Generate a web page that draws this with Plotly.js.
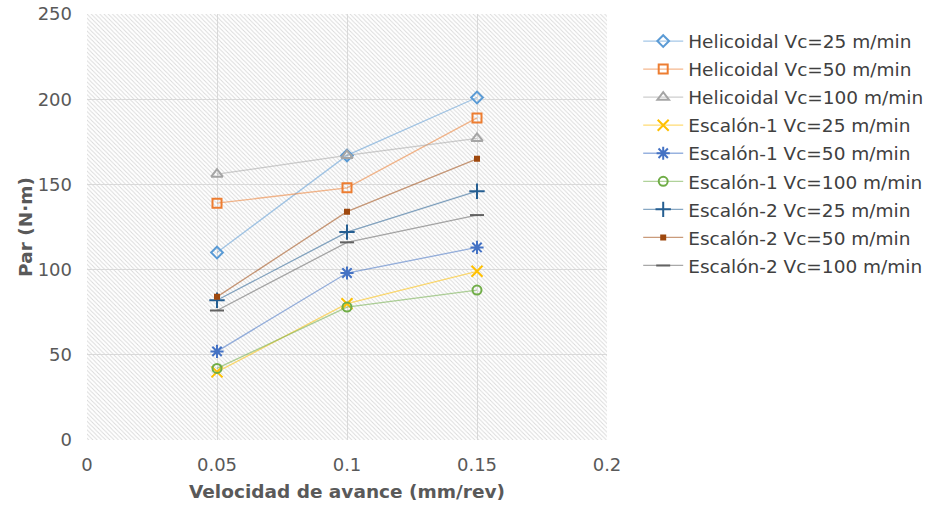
<!DOCTYPE html>
<html>
<head>
<meta charset="utf-8">
<script src="https://cdn.plot.ly/plotly-3.0.1.min.js"></script>
<style>html,body{margin:0;padding:0;background:#fff;}#chart{width:926px;height:506px;}</style>
</head>
<body>
<div id="chart"></div>
<script>
const feed = [0.05, 0.1, 0.15];
const seriesNames = [
  "Helicoidal Vc=25 m/min",
  "Helicoidal Vc=50 m/min",
  "Helicoidal Vc=100 m/min",
  "Escalón-1 Vc=25 m/min",
  "Escalón-1 Vc=50 m/min",
  "Escalón-1 Vc=100 m/min",
  "Escalón-2 Vc=25 m/min",
  "Escalón-2 Vc=50 m/min",
  "Escalón-2 Vc=100 m/min"
];
const helicoidal25 = [110, 167, 201];
const helicoidal50 = [139, 148, 189];
const helicoidal100 = [156, 167, 177];
const escalon1_25 = [40, 80, 99];
const escalon1_50 = [52, 98, 113];
const escalon1_100 = [42, 78, 88];
const escalon2_25 = [82, 122, 146];
const escalon2_50 = [84, 134, 165];
const escalon2_100 = [76, 116, 132];
const xTicks = [0, 0.05, 0.1, 0.15, 0.2];
const yTicks = [0, 50, 100, 150, 200, 250];

const values = [helicoidal25, helicoidal50, helicoidal100, escalon1_25, escalon1_50, escalon1_100, escalon2_25, escalon2_50, escalon2_100];
const styles = [
  {sym: "diamond-open", c: "#5B9BD5", lc: "rgba(91,155,213,0.55)", s: 9},
  {sym: "square-open", c: "#ED7D31", lc: "rgba(237,125,49,0.55)", s: 9},
  {sym: "triangle-up-open", c: "#A5A5A5", lc: "rgba(165,165,165,0.55)", s: 10},
  {sym: "x-thin-open", c: "#FFC000", lc: "rgba(255,192,0,0.55)", s: 11},
  {sym: "asterisk-open", c: "#4472C4", lc: "rgba(68,114,196,0.55)", s: 11},
  {sym: "circle-open", c: "#70AD47", lc: "rgba(112,173,71,0.55)", s: 9},
  {sym: "cross-thin-open", c: "#255E91", lc: "rgba(37,94,145,0.55)", s: 11},
  {sym: "square", c: "#9E480E", lc: "rgba(158,72,14,0.55)", s: 4},
  {sym: "line-ew-open", c: "#636363", lc: "rgba(99,99,99,0.55)", s: 10}
];

const traces = [{
  x: [xTicks[0], xTicks[xTicks.length-1], xTicks[xTicks.length-1], xTicks[0]],
  y: [yTicks[0], yTicks[0], yTicks[yTicks.length-1], yTicks[yTicks.length-1]],
  mode: "none", fill: "toself", fillcolor: "rgba(0,0,0,0)",
  fillpattern: {shape: "\\", fgcolor: "#d9d9d9", bgcolor: "rgba(255,255,255,0)", size: 3, solidity: 0.3},
  showlegend: false, hoverinfo: "skip"
}];
values.forEach((v, i) => {
  const st = styles[i];
  traces.push({
    x: feed, y: v, name: seriesNames[i], type: "scatter", mode: "lines+markers",
    legendgroup: "g" + i,
    line: {color: st.lc, width: 1.3},
    marker: {symbol: st.sym, size: st.s, color: st.c, line: {color: st.c, width: 2}}
  });
});

const layout = {
  width: 926, height: 506,
  margin: {l: 87, r: 319, t: 14, b: 66, autoexpand: false},
  paper_bgcolor: "#ffffff", plot_bgcolor: "#ffffff",
  font: {family: "DejaVu Sans, Verdana, sans-serif", color: "#595959", size: 18},
  xaxis: {
    range: [0, 0.2], tickvals: xTicks, ticktext: xTicks.map(String),
    showgrid: true, gridcolor: "#d9d9d9", gridwidth: 1, zeroline: false, showline: false,
    ticks: "", ticklabelstandoff: 12, tickfont: {size: 18, color: "#595959"},
    title: {text: "<b>Velocidad de avance (mm/rev)</b>", font: {size: 18.5, color: "#595959"}, standoff: 11}
  },
  yaxis: {
    range: [0, 250], tickvals: yTicks,
    showgrid: true, gridcolor: "#d9d9d9", gridwidth: 1, zeroline: false, showline: false,
    ticks: "", ticklabelstandoff: 14, tickfont: {size: 18, color: "#595959"},
    title: {text: "<b>Par (N·m)</b>", font: {size: 18.5, color: "#595959"}, standoff: 0}
  },
  legend: {
    x: 1.06, xanchor: "left", y: 0.98, yanchor: "top",
    font: {size: 18.5, color: "#404040"}, tracegroupgap: 1, itemwidth: 40,
    bgcolor: "rgba(0,0,0,0)"
  },
  showlegend: true
};
Plotly.newPlot("chart", traces, layout, {displayModeBar: false, staticPlot: true});
</script>
</body>
</html>
